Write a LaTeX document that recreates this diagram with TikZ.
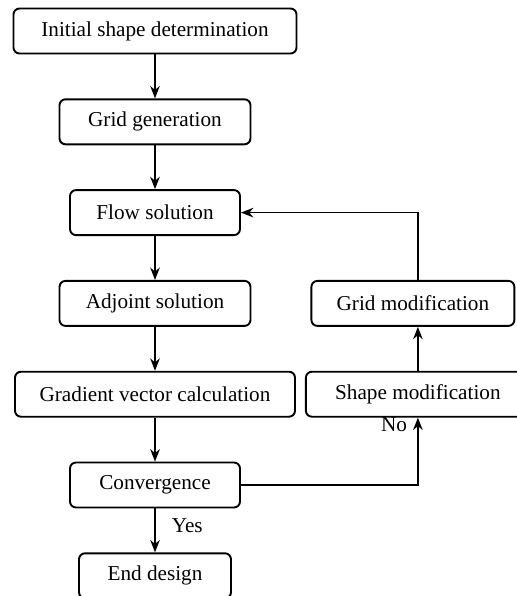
\documentclass[tikz,border=0pt]{standalone}
\usepackage{fontspec}
\setmainfont{Liberation Serif}
\usepackage{tikz}
\usetikzlibrary{arrows.meta, positioning}

\begin{document}
\begin{tikzpicture}[>={Stealth[length=6.2pt, width=4.8pt]}, node distance=21.95pt, thick]

% --- Style Definitions ---
% Process boxes
\tikzstyle{step_node}=[rectangle, rounded corners=3pt, draw=black, line width=0.95pt, minimum height=22.5pt, inner sep=2pt, font=\fontsize{10.6}{12.7}\selectfont]
% Arrow Styles
\tikzstyle{flow_arrow}=[->, line width=0.85pt, black]
\tikzstyle{flow_label}=[font=\fontsize{10.6}{12.7}\selectfont, inner sep=1pt]

% fixed page size
\useasboundingbox (0,0) rectangle (258.5pt,-298pt);

% --- 1. Left Column: Main Design Loop ---

\node[step_node, minimum width=141.5pt] (Step_Init) at (77.5pt,-15.5pt) {Initial shape determination};
\node[step_node, minimum width=95.5pt, below=of Step_Init] (Step_Grid) {Grid generation};
\node[step_node, minimum width=85pt, below=of Step_Grid] (Step_Flow) {Flow solution};
\node[step_node, minimum width=95.5pt, below=of Step_Flow] (Step_Adj) {Adjoint solution};
\node[step_node, minimum width=140pt, below=of Step_Adj] (Step_Grad) {Gradient vector calculation};
\node[step_node, minimum width=85pt, below=of Step_Grad] (Step_Conv) {Convergence};
\node[step_node, minimum width=76pt, below=of Step_Conv] (Step_End) {End design};

% Draw main path
\draw[flow_arrow] (Step_Init) -- (Step_Grid);
\draw[flow_arrow] (Step_Grid) -- (Step_Flow);
\draw[flow_arrow] (Step_Flow) -- (Step_Adj);
\draw[flow_arrow] (Step_Adj) -- (Step_Grad);
\draw[flow_arrow] (Step_Grad) -- (Step_Conv);
\draw[flow_arrow] (Step_Conv) -- node[flow_label, midway, right, xshift=7pt, yshift=2.5pt] {Yes} (Step_End);


% --- 2. Right Column: Modification Loop ---

\node[step_node, minimum width=112pt, right=4.5pt of Step_Grad] (Mod_Shape) {Shape modification};
\node[step_node, minimum width=101.5pt, right=29.5pt of Step_Adj] (Mod_Grid) {Grid modification};

% Not converged: back up to the flow solver
\draw[flow_arrow] (Step_Conv.east) -| node[flow_label, pos=0.95, left, xshift=-4pt] {No} (Mod_Shape.south);
\draw[flow_arrow] (Mod_Shape.north) -- (Mod_Shape.north |- Mod_Grid.south);
\draw[flow_arrow] (Mod_Shape.north |- Mod_Grid.north) |- (Step_Flow.east);

\end{tikzpicture}
\end{document}
